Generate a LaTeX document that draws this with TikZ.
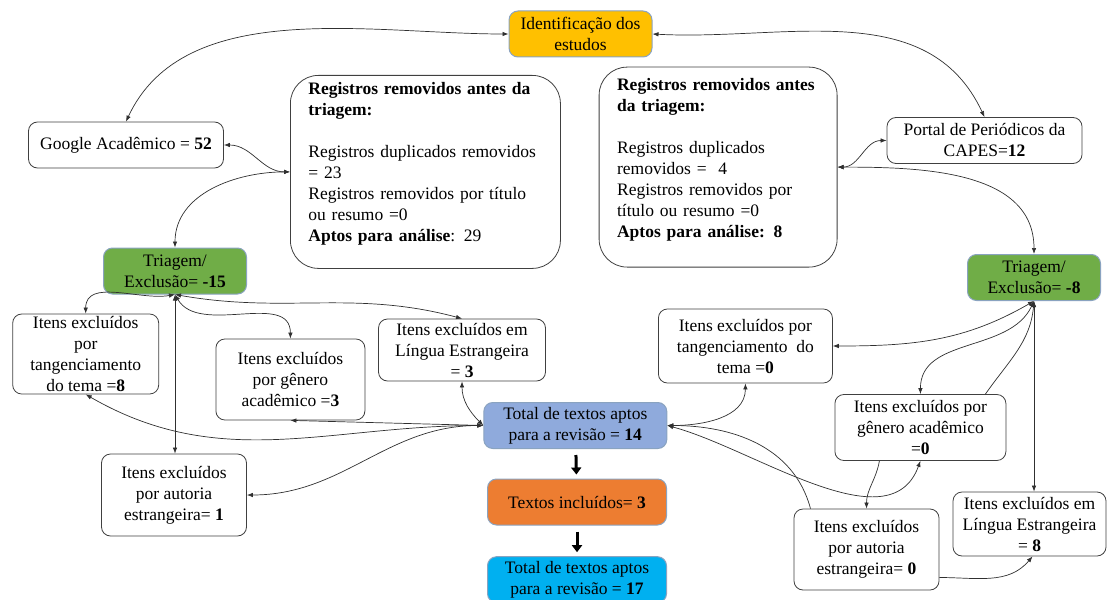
\documentclass[tikz,border=0pt]{standalone}
\usepackage{fontspec}
\setmainfont{Liberation Serif}
\usetikzlibrary{arrows.meta}

\definecolor{yellowid}{HTML}{FFC000}
\definecolor{greentri}{HTML}{70AD47}
\definecolor{bluetot}{HTML}{8FAADC}
\definecolor{orangeinc}{HTML}{ED7D31}
\definecolor{cyantot}{HTML}{00B0F0}
\definecolor{edgeblue}{HTML}{8AA3C0}
\definecolor{boxline}{HTML}{404040}
\definecolor{linkgray}{HTML}{303030}

\tikzset{
  box/.style={draw=boxline, line width=0.8pt, rounded corners=9pt, fill=white,
    align=center, inner sep=2pt},
  fillbox/.style={box, draw=edgeblue, line width=1pt, fill=#1},
  regbox/.style={box, rounded corners=28pt, align=left, anchor=north west,
    inner xsep=18pt},
  link/.style={draw=linkgray, line width=0.7pt},
  bigarrow/.style={draw=black, line width=3pt,
    -{Triangle[length=7pt,width=10pt]}, shorten <=6pt, shorten >=4pt},
}

\begin{document}
\begin{tikzpicture}[x=1pt,y=-1pt,font=\fontsize{17.5}{21}\selectfont]
      \useasboundingbox (0,0) rectangle (1107,599);
      \draw
        (580.5,34) node[fillbox=yellowid, minimum width=143pt, minimum height=46pt] (ident)
          {Identificação dos\\estudos}
        (126,145) node[box, minimum width=195pt, minimum height=46pt] (google)
          {Google Acadêmico = \textbf{52}}
        (984.5,140.5) node[box, minimum width=195pt, minimum height=46pt] (capes)
          {Portal de Periódicos da\\CAPES=\textbf{12}}
        (290,75) node[regbox, text width=234pt, minimum height=193pt] (reg1)
          {\textbf{Registros removidos antes da}\\\textbf{triagem:}\\[21pt]
           Registros duplicados removidos\\= 23\\Registros removidos por título\\
           ou resumo =0\\\textbf{Aptos para análise}: 29\\[-2pt]\mbox{}}
        (598.7,66.7) node[regbox, text width=202pt, minimum height=200pt] (reg2)
          {\textbf{Registros removidos antes}\\\textbf{da triagem:}\\[21pt]
           Registros duplicados\\removidos =\ \ 4\\Registros removidos por\\
           título ou resumo =0\\\textbf{Aptos para análise: 8}\\[-2pt]\mbox{}}
        (175,271) node[fillbox=greentri, minimum width=143pt, minimum height=46pt] (tri1)
          {Triagem/\\Exclusão= \textbf{-15}}
        (1034,277.5) node[fillbox=greentri, minimum width=133pt, minimum height=46pt] (tri2)
          {Triagem/\\Exclusão= \textbf{-8}}
        (85.7,354) node[box, minimum width=146pt, minimum height=80pt] (tang1)
          {Itens excluídos\\por\\tangenciamento\\do tema =\textbf{8}}
        (290.4,379.5) node[box, minimum width=149pt, minimum height=81pt] (gen1)
          {Itens excluídos\\por gênero\\acadêmico =\textbf{3}}
        (462,350) node[box, minimum width=167pt, minimum height=62pt] (ling1)
          {Itens excluídos em\\Língua Estrangeira\\= \textbf{3}}
        (174,495) node[box, minimum width=145pt, minimum height=82pt] (aut1)
          {Itens excluídos\\por autoria\\estrangeira= \textbf{1}}
        (575.3,425.5) node[fillbox=bluetot, minimum width=183pt, minimum height=46pt] (tot14)
          {Total de textos aptos\\para a revisão = \textbf{14}}
        (577,502) node[fillbox=orangeinc, minimum width=179pt, minimum height=46pt] (incl)
          {Textos incluídos= \textbf{3}}
        (577,579.7) node[fillbox=cyantot, minimum width=179pt, minimum height=46pt] (tot17)
          {Total de textos aptos\\para a revisão = \textbf{17}}
        (745.4,346) node[box, minimum width=174pt, minimum height=74pt] (tang2)
          {Itens excluídos por\\tangenciamento\ \ do\\tema =\textbf{0}}
        (920.4,427.5) node[box, minimum width=171pt, minimum height=66pt] (gen2)
          {Itens excluídos por\\gênero acadêmico\\=\textbf{0}}
        (866.5,549.5) node[box, minimum width=145pt, minimum height=81pt] (aut2)
          {Itens excluídos\\por autoria\\estrangeira= \textbf{0}}
        (1029.5,524) node[box, minimum width=153pt, minimum height=64pt] (ling2)
          {Itens excluídos em\\Língua Estrangeira\\= \textbf{8}};
      \begin{scope}[link, >={Latex[length=6pt,width=4.5pt]}, <->]
        % bases
        \draw (google.north) to[out=65,in=180,looseness=0.9] (ident.west);
        \draw (ident.east) to[out=-3,in=115] (capes.north);
        \draw (google.east) to[out=0,in=180] (reg1.west);
        \draw (tri1.north) to[out=90,in=180] (reg1.west);
        \draw (reg2.east) to[out=0,in=180] (capes.west);
        \draw (reg2.east) to[out=0,in=90] (tri2.north);
        % triagem 1
        \draw (tri1.south) to[out=190,in=90] (tang1.north);
        \draw (tri1.south) to[out=-60,in=90] (gen1.north);
        \draw (tri1.south) to[out=-10,in=165] (ling1.north);
        \draw (tri1.south) -- (tri1.south |- aut1.north);
        \draw (tot14.west) to[out=180,in=-30] (tang1.south);
        \draw (tot14.west) -- (gen1.south);
        \draw (tot14.west) to[out=135,in=-90] (ling1.south);
        \draw (tot14.west) to[out=180,in=0] (aut1.east);
        % triagem 2
        \draw (tot14.east) to[out=0,in=-90] (tang2.south);
        \draw (tot14.east) to[out=-15,in=-110,looseness=0.9] (gen2.south);
        \draw (tri2.south) to[out=-150,in=0] (tang2.east);
        \draw (tri2.south) to[out=-115,in=90] (gen2.north);
        \draw (tri2.south) -- (tri2.south |- ling2.north);
        \draw[->] ([xshift=-56pt]aut2.north) to[out=105,in=0] (tot14.east);
        \draw[->] ([xshift=65pt]gen2.north) to[out=55,in=-95] (tri2.south);
        \draw[->] ([xshift=-41pt]gen2.south) to[out=-100,in=90] (aut2.north);
        \draw[->] ([yshift=-28pt]aut2.east) to[out=0,in=-130] ([xshift=3pt]ling2.south);
      \end{scope}
      \draw[bigarrow] (tot14) -- (incl);
      \draw[bigarrow] (incl) -- (tot17);
    \end{tikzpicture}
\end{document}
